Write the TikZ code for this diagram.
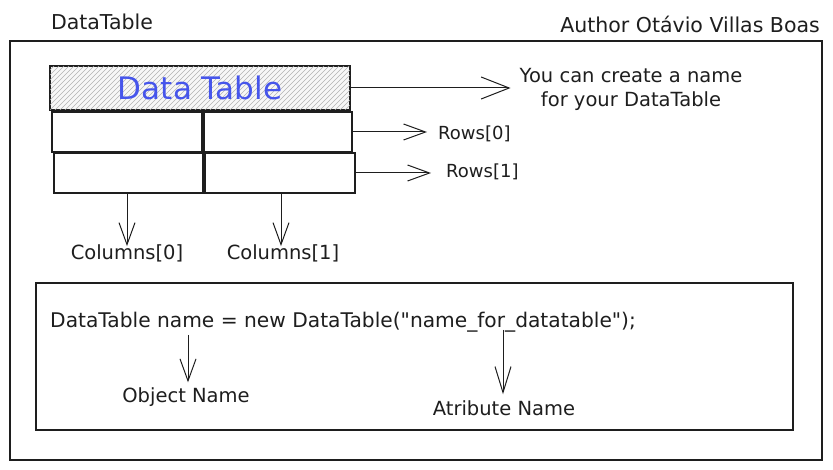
\documentclass[tikz,border=0pt]{standalone}
\usepackage{fontspec}
\setmainfont{DejaVu Sans}
\newfontfamily\codefont{DejaVu Sans}
\usetikzlibrary{arrows.meta}
\definecolor{hblue}{RGB}{70,85,235}
\definecolor{ink}{RGB}{30,30,30}
\tikzset{
  frame/.style={draw=ink,line width=1.3pt},
  cell/.style={draw=ink,line width=1.3pt,minimum height=40pt,inner sep=0pt},
  lbl/.style={font=\fontsize{19.5}{24}\selectfont,text=ink,inner sep=1pt},
  arr/.style={draw=ink,line width=1pt,-{Straight Barb[length=22pt,width=16pt,line width=1pt]}},
  bigarr/.style={draw=ink,line width=1pt,-{Straight Barb[length=28pt,width=22pt,line width=1pt]}},
}
\begin{document}
\begin{tikzpicture}[x=1pt,y=-1pt]
\useasboundingbox (0,0) rectangle (833,470);
\fill[white] (0,0) rectangle (833,470);
% frames
\node[frame,minimum width=812pt,minimum height=419pt,inner sep=0pt] (outer) at (416,250.5) {};
\node[frame,minimum width=757pt,minimum height=147pt,inner sep=0pt] (codebox) at (414.5,356.5) {};
% titles
\node[lbl,font=\fontsize{20.5}{24}\selectfont] (title) at (102,22) {DataTable};
\node[lbl,anchor=east,font=\fontsize{20.5}{24}\selectfont] (author) at (821,24) {Author Otávio Villas Boas};
% header
\node[cell,minimum width=300pt,minimum height=44pt,fill=gray!6] (hdr) at (200,88) {};
\begin{scope}
  \clip (hdr.south west) rectangle (hdr.north east);
  \foreach \i in {-60,-55,...,360}
    \draw[gray!60,line width=0.6pt] (40+\i,115) -- (100+\i,55);
\end{scope}
\draw[ink,line width=1.3pt] (hdr.south west) rectangle (hdr.north east);
\node[font=\fontsize{31}{34}\selectfont,text=hblue] (hdrtext) at (200,88) {Data Table};
% cells
\node[cell,minimum width=150pt] (c00) at (127,132) {};
\node[cell,minimum width=148pt] (c01) at (278,132) {};
\node[cell,minimum width=149pt] (c10) at (128.5,173) {};
\node[cell,minimum width=150pt] (c11) at (280,173) {};
% right labels
\node[lbl,align=center] (hdrlbl) at (631,89) {You can create a name\\for your DataTable};
\node[lbl,anchor=west,font=\fontsize{18}{22}\selectfont] (row0) at (437,134) {Rows[0]};
\node[lbl,anchor=west,font=\fontsize{18}{22}\selectfont] (row1) at (445,172) {Rows[1]};
\draw[bigarr,shorten >=8pt] (hdr.east) -- (hdr.east -| hdrlbl.west);
\draw[arr] (c01.east) -- ([xshift=-10pt]row0.west |- c01.east);
\draw[arr] (c11.east) -- ([xshift=-14pt]row1.west |- c11.east);
% column labels
\node[lbl] (col0) at (127,253) {Columns[0]};
\node[lbl] (col1) at (283,253) {Columns[1]};
\draw[arr] (c10.south -| col0.north) -- ([yshift=-3pt]col0.north);
\draw[arr] (c11.south -| 281,0) -- ([yshift=-3pt]col1.north -| 281,0);
% code
\node[lbl,anchor=west,font=\codefont\fontsize{20.2}{24}\selectfont] (code) at (49,322) {DataTable name = new DataTable("name\_for\_datatable");};
\node[lbl] (objlbl) at (186,397) {Object Name};
\node[lbl] (attlbl) at (504,408) {Atribute Name};
\coordinate (objtop) at (188,335);
\coordinate (atttop) at (503,330);
\draw[arr,shorten >=4pt] (objtop) -- (objtop |- objlbl.north) ;
\draw[arr,shorten >=5pt,-{Straight Barb[length=26pt,width=16pt,line width=1pt]}] (atttop) -- (atttop |- attlbl.north);
\end{tikzpicture}
\end{document}
